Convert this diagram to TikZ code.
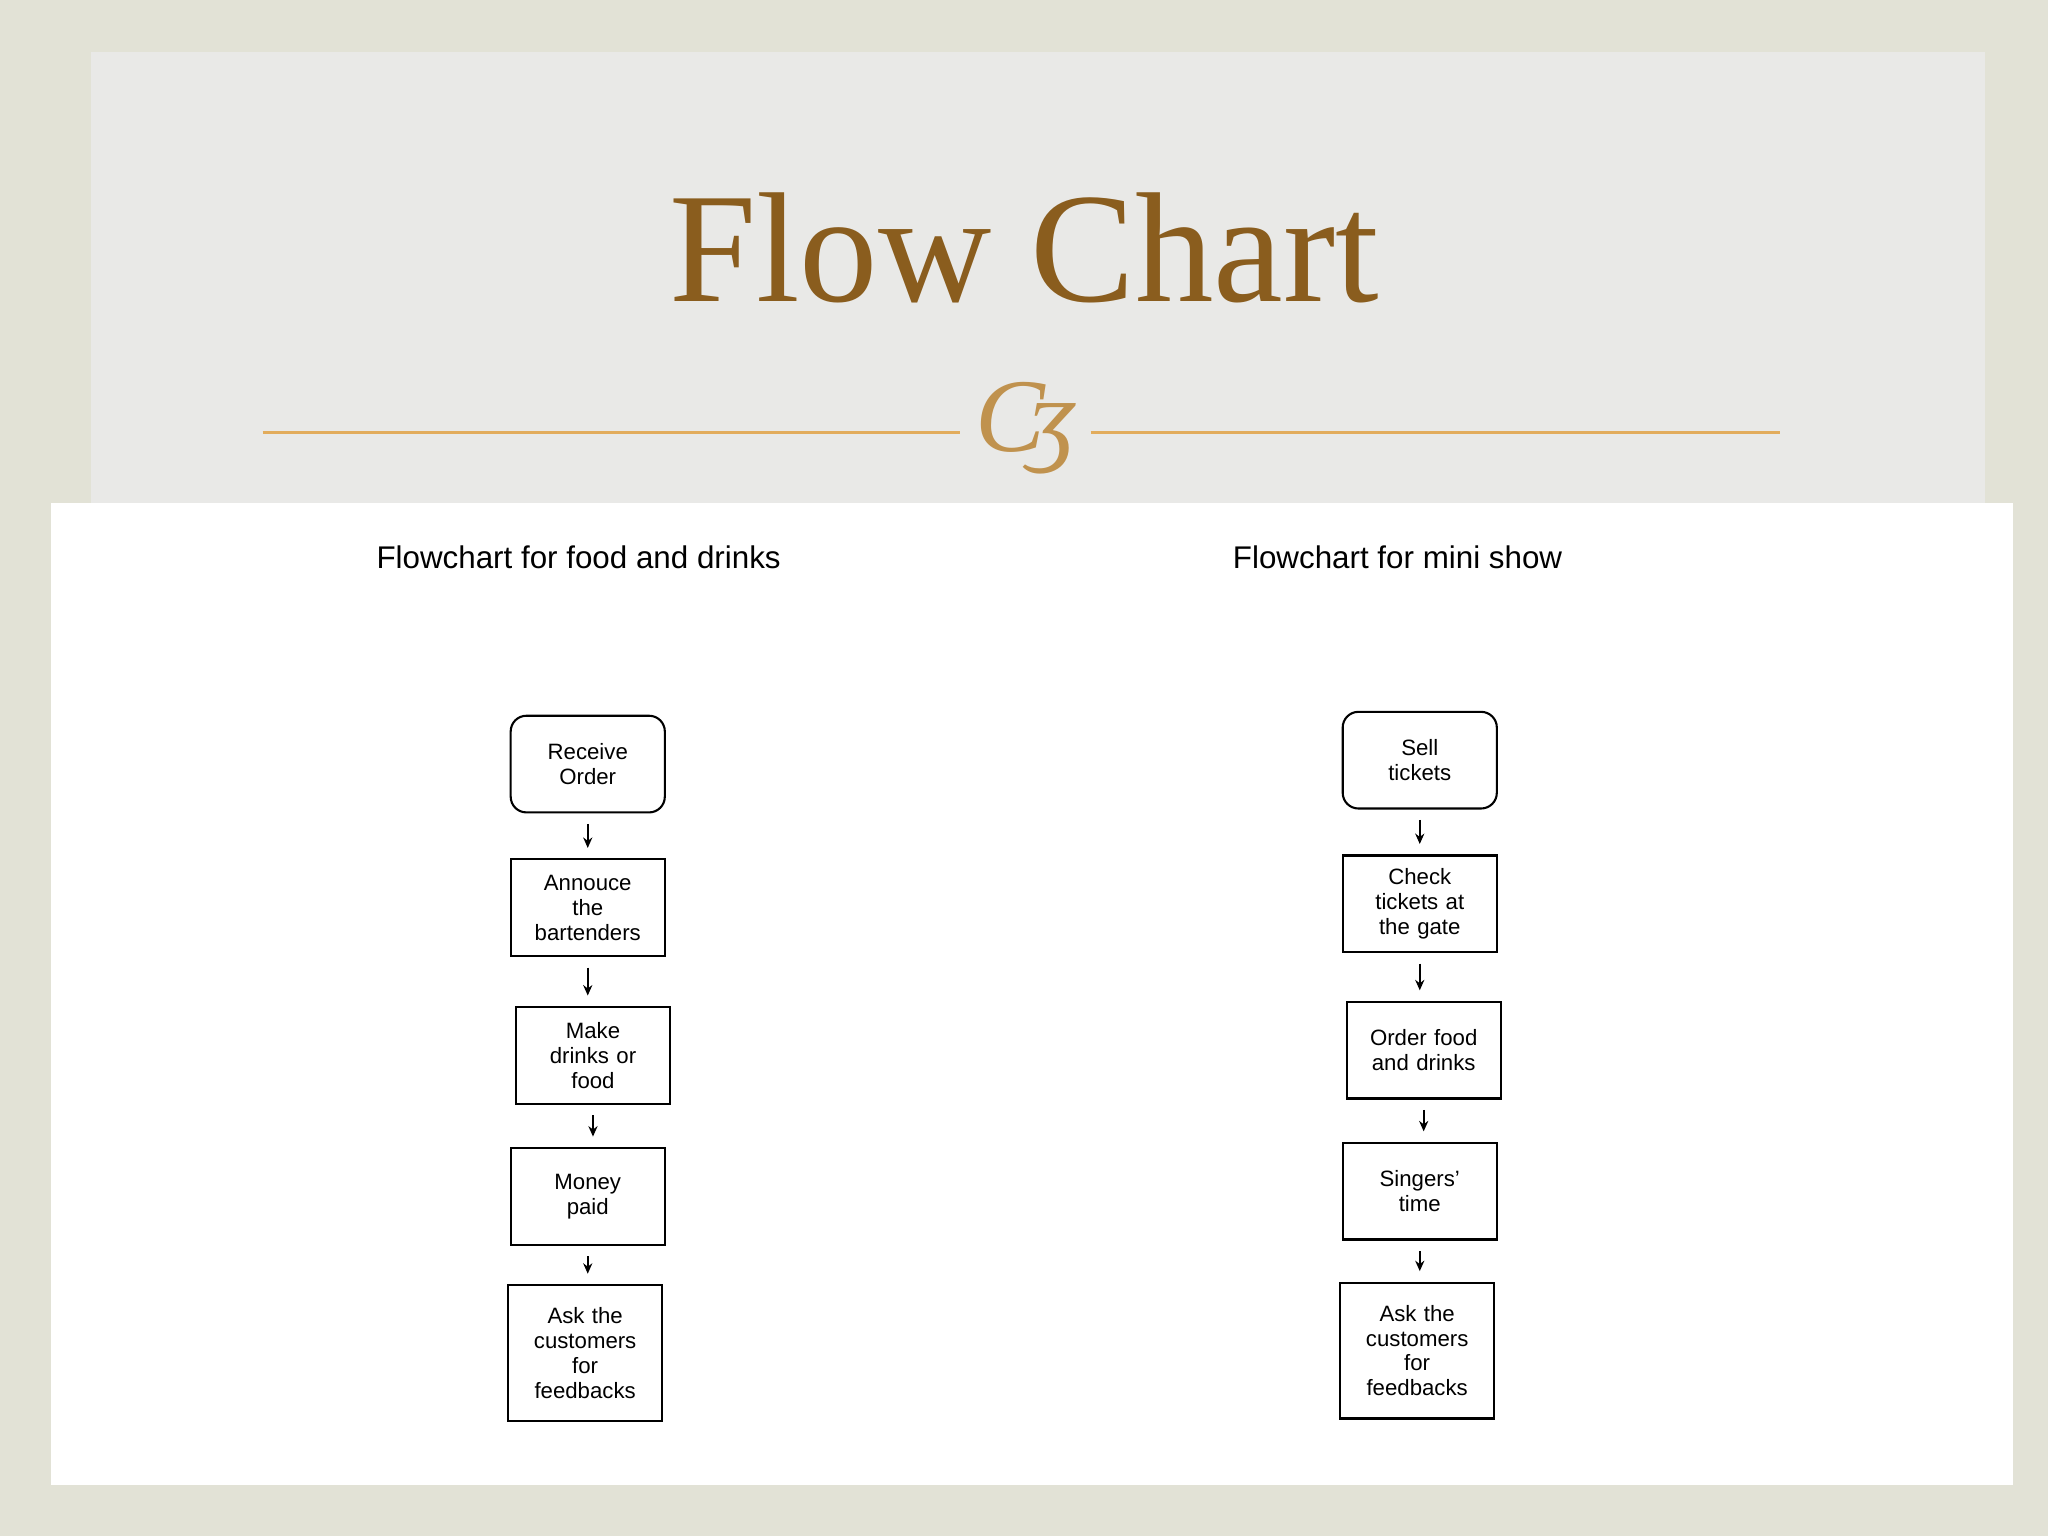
\documentclass[tikz,border=0pt]{standalone}
\usepackage{fontspec}
\setmainfont{Liberation Sans}
\newfontfamily\titlefont{Liberation Serif}
\usetikzlibrary{arrows.meta}
\definecolor{outerbg}{HTML}{E2E2D6}
\definecolor{innerbg}{HTML}{E9E9E7}
\definecolor{titlebrown}{HTML}{8A5D1E}
\definecolor{rulegold}{HTML}{E2AC5C}
\begin{document}
\begin{tikzpicture}[x=0.5pt,y=-0.5pt,
  stepbox/.style={draw,line width=0.8pt,minimum width=59pt,minimum height=37pt,text width=56pt,align=center,inner sep=1pt,font=\fontsize{8.5}{9.5}\selectfont},
  roundbox/.style={stepbox,rounded corners=6pt},
  tallbox/.style={stepbox,minimum height=52pt},
  flow/.style={-{Stealth[length=4pt,width=3.5pt]},line width=0.8pt,shorten <=4pt,shorten >=4pt},
  head/.style={font=\fontsize{12}{14}\selectfont}]
\useasboundingbox (0,0) rectangle (1568,1176);
\fill[outerbg] (0,0) rectangle (1568,1176);
\fill[innerbg] (70,40) rectangle (1520,385);
\fill[white] (39,385) rectangle (1541,1137);
\node[text=titlebrown,font=\titlefont\fontsize{60}{66}\selectfont] (title) at (784,190) {Flow Chart};
\draw[rulegold,line width=1pt] (201,331) -- (735,331);
\draw[rulegold,line width=1pt] (835,331) -- (1363,331);
\node[text=rulegold!85!black,font=\titlefont\itshape\fontsize{40}{40}\selectfont] (orn) at (785,328) {C\kern-6pt ʒ};
\node[head] (h1) at (443,427) {Flowchart for food and drinks};
\node[head] (h2) at (1070,427) {Flowchart for mini show};
% left
\node[roundbox] (l1) at (450,585) {Receive\\Order};
\node[stepbox] (l2) at (450,695) {Annouce\\the\\bartenders};
\node[stepbox] (l3) at (454,808) {Make\\drinks or\\food};
\node[stepbox] (l4) at (450,916) {Money\\paid};
\node[tallbox] (l5) at (448,1036) {Ask the\\customers\\for\\feedbacks};
% right
\node[roundbox] (r1) at (1087,582) {Sell\\tickets};
\node[stepbox] (r2) at (1087,692) {Check\\tickets at\\the gate};
\node[stepbox] (r3) at (1090,804) {Order food\\and drinks};
\node[stepbox] (r4) at (1087,912) {Singers'\\time};
\node[tallbox] (r5) at (1085,1034) {Ask the\\customers\\for\\feedbacks};
\foreach \a/\b in {l1/l2,l2/l3,l3/l4,l4/l5,r1/r2,r2/r3,r3/r4,r4/r5}
  \draw[flow] (\a.south) -- (\a.south |- \b.north);
\end{tikzpicture}
\end{document}
